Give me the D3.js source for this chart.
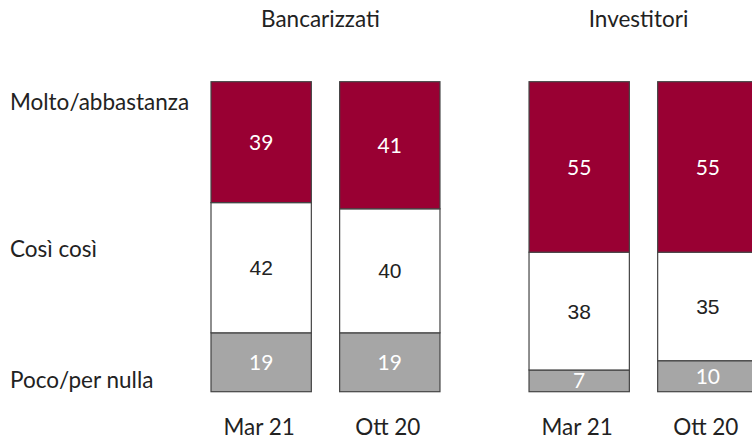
<!DOCTYPE html>
<html>
<head>
<meta charset="utf-8">
<script src="https://cdn.jsdelivr.net/npm/d3@7"></script>
<style>
  body { margin: 0; background: #fff; overflow: hidden; }
  text { font-family: Lato, "Open Sans", sans-serif; }
</style>
</head>
<body>
<div id="chart"></div>
<script>
// data
const groups = ["Bancarizzati", "Investitori"];
const periods = ["Mar 21", "Ott 20"];
const levels = ["Poco/per nulla", "Così così", "Molto/abbastanza"];
// values per group, per period, from bottom to top
const poco = [[19, 19], [7, 10]];
const cosi = [[42, 40], [38, 35]];
const molto = [[39, 41], [55, 55]];

const width = 752, height = 439;

const svg = d3.select("#chart")
    .append("svg")
    .attr("width", width)
    .attr("height", height);

// scales
const x0 = d3.scaleBand()
    .domain(groups)
    .range([211, 758])
    .paddingInner(0.28);

const x1 = d3.scaleBand()
    .domain(periods)
    .range([0, x0.bandwidth()])
    .paddingInner(0.22);

const y = d3.scaleLinear()
    .domain([0, 100])
    .range([391.7, 81.7]);

const fills = ["#a6a6a6", "#ffffff", "#990033"];
const textFills = ["#ffffff", "#222222", "#ffffff"];

// build rows for the stack
let rows = [];
groups.forEach((g, gi) => {
    periods.forEach((p, pi) => {
        rows.push({
            group: g, period: p,
            "Poco/per nulla": poco[gi][pi],
            "Così così": cosi[gi][pi],
            "Molto/abbastanza": molto[gi][pi]
        });
    });
});

const series = d3.stack().keys(levels)(rows);

// bars
series.forEach((s, si) => {
    const g = svg.append("g");
    g.selectAll("rect")
        .data(s)
        .join("rect")
        .attr("x", d => x0(d.data.group) + x1(d.data.period))
        .attr("width", x1.bandwidth())
        .attr("y", d => y(d[1]))
        .attr("height", d => y(d[0]) - y(d[1]))
        .attr("fill", fills[si])
        .attr("stroke", "#444")
        .attr("stroke-width", 1.2);

    g.selectAll("text")
        .data(s)
        .join("text")
        .attr("x", d => x0(d.data.group) + x1(d.data.period) + x1.bandwidth() / 2)
        .attr("y", d => (y(d[0]) + y(d[1])) / 2)
        .attr("dy", "0.36em")
        .attr("text-anchor", "middle")
        .attr("fill", textFills[si])
        .style("font-family", si === 1 ? "'Liberation Sans', Arial, sans-serif" : null)
        .style("font-size", "21px")
        .text(d => d[1] - d[0]);
});

// group titles
svg.append("g")
    .selectAll("text")
    .data(groups)
    .join("text")
    .attr("x", d => x0(d) + x0.bandwidth() / 2 - 5)
    .attr("y", 27)
    .attr("text-anchor", "middle")
    .attr("fill", "#222")
    .style("font-size", "22.5px")
    .text(d => d);

// period labels under each bar
groups.forEach(gr => {
    svg.append("g")
        .selectAll("text")
        .data(periods)
        .join("text")
        .attr("x", d => x0(gr) + x1(d) + x1.bandwidth() / 2 - 2)
        .attr("y", 435)
        .attr("text-anchor", "middle")
        .attr("fill", "#222")
        .style("font-size", "22.5px")
        .text(d => d);
});

// left legend labels
const labelY = { "Molto/abbastanza": 110, "Così così": 257, "Poco/per nulla": 388 };
svg.append("g")
    .selectAll("text")
    .data(levels.slice().reverse())
    .join("text")
    .attr("x", 10)
    .attr("y", d => labelY[d])
    .attr("fill", "#222")
    .style("font-size", "22.5px")
    .text(d => d);
</script>
</body>
</html>
